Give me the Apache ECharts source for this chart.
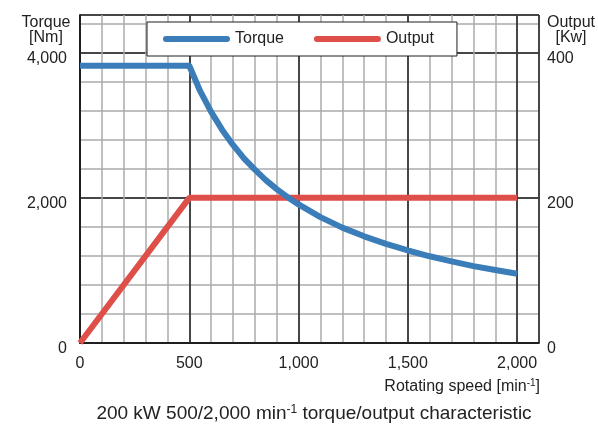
<!DOCTYPE html>
<html><head><meta charset="utf-8">
<script src="https://cdn.jsdelivr.net/npm/echarts@6/dist/echarts.min.js"></script>
<style>html,body{margin:0;padding:0;background:#fff}#c{width:598px;height:426px}</style>
</head><body><div id="c"></div>
<script>
// Data
const speed  = [0, 500, 550, 600, 650, 700, 750, 800, 850, 900, 950, 1000, 1100, 1200, 1300, 1400, 1500, 1600, 1700, 1800, 1900, 2000];
const torque = [3820, 3820, 3470, 3185, 2940, 2730, 2545, 2390, 2245, 2120, 2010, 1910, 1735, 1590, 1470, 1365, 1275, 1195, 1125, 1060, 1005, 955];
const outSpeed = [0, 500, 2000];
const output   = [0, 200, 200];
const xTicks = [0, 500, 1000, 1500, 2000];
const torqueTicks = [0, 2000, 4000];
const outputTicks = [0, 200, 400];

const FONT = '"Liberation Sans", Arial, sans-serif';
const BLUE = '#3a7db9', RED = '#df4f4a', GREY = '#ababab', BLACK = '#1e1e1e';
const fmt = v => v.toLocaleString('en-US');

const chart = echarts.init(document.getElementById('c'), null, {renderer: 'canvas'});
const grid = {left: 80, right: 59, top: 15, bottom: 83, containLabel: false};
const XMAX = 2100, YMAX = 4520, OMAX = 452;

chart.setOption({
  animation: false,
  backgroundColor: '#fff',
  grid: grid,
  legend: {
    data: ['Torque', 'Output'],
    left: 147, top: 22,
    padding: [9, 23, 9, 16],
    itemGap: 30,
    itemWidth: 67, itemHeight: 6,
    icon: 'path://M3,0 H64 A3,3 0 0 1 64,6 H3 A3,3 0 0 1 3,0 Z',
    backgroundColor: '#fff',
    borderColor: BLACK, borderWidth: 1,
    borderRadius: 0,
    textStyle: {fontFamily: FONT, fontSize: 16, color: '#222', padding: [3, 0, 0, 0]},
    z: 10
  },
  xAxis: [
    {type: 'value', min: 0, max: XMAX, interval: 100, position: 'bottom',
     axisLine: {show: false}, axisTick: {show: false}, axisLabel: {show: false},
     splitLine: {show: true, lineStyle: {color: GREY, width: 1.5}}},
    {type: 'value', min: 0, max: XMAX, interval: 500, position: 'bottom',
     axisLine: {show: true, lineStyle: {color: BLACK, width: 1.5}},
     axisTick: {show: false},
     axisLabel: {show: true, showMaxLabel: false, margin: 13, formatter: v => xTicks.includes(v) ? fmt(v) : '',
                 fontFamily: FONT, fontSize: 16, color: '#222'},
     splitLine: {show: true, lineStyle: {color: BLACK, width: 1.5}}},
    {type: 'value', min: 0, max: XMAX, position: 'top',
     axisLine: {show: true, lineStyle: {color: BLACK, width: 1.5}},
     axisTick: {show: false}, axisLabel: {show: false}, splitLine: {show: false}}
  ],
  yAxis: [
    {type: 'value', min: 0, max: YMAX, interval: 400, position: 'left',
     axisLine: {show: false}, axisTick: {show: false}, axisLabel: {show: false},
     splitLine: {show: true, lineStyle: {color: GREY, width: 1.5}}},
    {type: 'value', min: 0, max: YMAX, interval: 2000, position: 'left',
     axisLine: {show: true, lineStyle: {color: BLACK, width: 1.5}},
     axisTick: {show: false},
     axisLabel: {show: true, showMaxLabel: false, margin: 13, verticalAlign: 'top', lineHeight: 11,
                 formatter: v => torqueTicks.includes(v) ? fmt(v) : '',
                 fontFamily: FONT, fontSize: 16, color: '#222'},
     splitLine: {show: true, lineStyle: {color: BLACK, width: 1.5}}},
    {type: 'value', min: 0, max: OMAX, interval: 200, position: 'right',
     axisLine: {show: true, lineStyle: {color: BLACK, width: 1.5}},
     axisTick: {show: false},
     axisLabel: {show: true, showMaxLabel: false, margin: 8, verticalAlign: 'top', lineHeight: 11,
                 formatter: v => outputTicks.includes(v) ? fmt(v) : '',
                 fontFamily: FONT, fontSize: 16, color: '#222'},
     splitLine: {show: false}}
  ],
  series: [
    {name: 'Output', type: 'line', xAxisIndex: 1, yAxisIndex: 2,
     data: outSpeed.map((s, i) => [s, output[i]]),
     showSymbol: false, symbol: 'none', color: RED,
     lineStyle: {color: RED, width: 6, cap: 'butt'}, z: 3},
    {name: 'Torque', type: 'line', xAxisIndex: 1, yAxisIndex: 1,
     data: speed.map((s, i) => [s, torque[i]]),
     showSymbol: false, symbol: 'none', color: BLUE,
     lineStyle: {color: BLUE, width: 6, cap: 'butt', join: 'round'}, z: 4}
  ],
  graphic: [
    {type: 'text', x: 46, y: 15, z: 20, style: {text: 'Torque\n[Nm]', font: '16px ' + FONT, fill: '#222', align: 'center', verticalAlign: 'top', lineHeight: 15}},
    {type: 'text', x: 571, y: 15, z: 20, style: {text: 'Output\n[Kw]', font: '16px ' + FONT, fill: '#222', align: 'center', verticalAlign: 'top', lineHeight: 15}},
    {type: 'text', x: 540, y: 387, z: 20, style: {
      text: 'Rotating speed [min{sup|-1}]', font: '16px ' + FONT, fill: '#222', align: 'right', verticalAlign: 'middle',
      rich: {sup: {fontFamily: FONT, fontSize: 10, verticalAlign: 'top', padding: [0, 0, 7, 0], fill: '#222'}}}},
    {type: 'text', x: 314, y: 414, z: 20, style: {
      text: '200 kW 500/2,000 min{sup|-1} torque/output characteristic', font: '19px ' + FONT, fill: '#222', align: 'center', verticalAlign: 'middle',
      rich: {sup: {fontFamily: FONT, fontSize: 12, verticalAlign: 'top', padding: [0, 0, 9, 0], fill: '#222'}}}}
  ]
});
</script></body></html>
